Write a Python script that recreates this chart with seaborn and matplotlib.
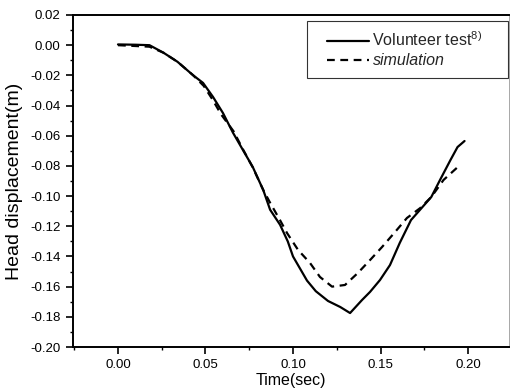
import matplotlib
matplotlib.use("Agg")
import matplotlib.pyplot as plt
import seaborn as sns
import pandas as pd
from matplotlib.ticker import MultipleLocator, FormatStrFormatter
from matplotlib.legend_handler import HandlerLine2D
from matplotlib.lines import Line2D

# ---- data ----
vol_t = [0.000, 0.010, 0.018, 0.026, 0.034, 0.043, 0.0486, 0.0543, 0.060, 0.0657,
         0.0714, 0.077, 0.083, 0.0869, 0.0926, 0.097, 0.100, 0.104, 0.108, 0.113,
         0.120, 0.127, 0.1326, 0.1394, 0.144, 0.1497, 0.1554, 0.161, 0.1674, 0.179,
         0.184, 0.190, 0.194, 0.198]
vol_y = [0.0005, 0.0003, 0.000, -0.005, -0.011, -0.020, -0.025, -0.0343, -0.045, -0.058,
         -0.0695, -0.0807, -0.096, -0.109, -0.119, -0.130, -0.140, -0.148, -0.156, -0.163,
         -0.1695, -0.1735, -0.1775, -0.1689, -0.1635, -0.1556, -0.1457, -0.131, -0.1159, -0.1006,
         -0.0893, -0.076, -0.0675, -0.0635]

sim_t = [0.000, 0.018, 0.026, 0.034, 0.043, 0.049, 0.054, 0.059, 0.066, 0.0714,
         0.077, 0.083, 0.087, 0.0926, 0.0966, 0.1029, 0.1097, 0.1154, 0.1223, 0.1297,
         0.137, 0.144, 0.1509, 0.1583, 0.1651, 0.1726, 0.179, 0.186, 0.1954]
sim_y = [0.000, -0.001, -0.005, -0.011, -0.020, -0.027, -0.036, -0.046, -0.057, -0.069,
         -0.081, -0.096, -0.1046, -0.116, -0.1245, -0.1357, -0.1443, -0.1536, -0.160, -0.1589,
         -0.151, -0.1424, -0.1337, -0.1238, -0.1145, -0.108, -0.1006, -0.0893, -0.0794]

labels = ["Volunteer test$^{8)}$", "simulation"]

sns.set_theme(style="ticks")
plt.rcParams["font.family"] = ["Liberation Sans", "DejaVu Sans"]
plt.rcParams["mathtext.fontset"] = "custom"
plt.rcParams["mathtext.rm"] = "Liberation Sans"
plt.rcParams["mathtext.it"] = "Liberation Sans:italic"
plt.rcParams["axes.unicode_minus"] = False

fig = plt.figure(figsize=(5.11, 3.92), dpi=100)
ax = fig.add_axes([73/511, 1-347/392, (509-73)/511, (347-15)/392])

df_v = pd.DataFrame({"t": vol_t, "y": vol_y})
df_s = pd.DataFrame({"t": sim_t, "y": sim_y})
sns.lineplot(data=df_v, x="t", y="y", ax=ax, color="black", lw=1.6,
             label=labels[0], sort=False)
sns.lineplot(data=df_s, x="t", y="y", ax=ax, color="black", lw=1.6,
             label=labels[1], sort=False, dashes=False)
ax.lines[1].set_dashes([3.5, 2.5])

ax.set_xlim(-0.0257, 0.2234)
ax.set_ylim(-0.20, 0.02)
ax.xaxis.set_major_locator(MultipleLocator(0.05))
ax.xaxis.set_minor_locator(MultipleLocator(0.025))
ax.yaxis.set_major_locator(MultipleLocator(0.02))
ax.yaxis.set_minor_locator(MultipleLocator(0.01))
ax.xaxis.set_major_formatter(FormatStrFormatter("%.2f"))
ax.yaxis.set_major_formatter(FormatStrFormatter("%.2f"))

ax.tick_params(axis="both", which="major", direction="out", length=5, width=1.2,
               labelsize=9.5, color="black", labelcolor="black", pad=4)
ax.tick_params(axis="both", which="minor", direction="out", length=2.5, width=1.0,
               color="black")
for s in ax.spines.values():
    s.set_visible(True)
    s.set_color("black")
    s.set_linewidth(1.4)
ax.spines["right"].set_linewidth(0.6)
ax.spines["right"].set_color("#999999")

ax.set_xlabel("Time(sec)", fontsize=11.5, color="black", labelpad=1)
ax.set_ylabel("Head displacement(m)", fontsize=14, color="black", labelpad=5)

handles, _ = ax.get_legend_handles_labels()
x0 = (307 - 73) / 436
w = (508 - 307) / 436
top = (347 - 21) / 332
leg = ax.legend(handles, labels, loc="upper left", bbox_to_anchor=(x0, 0.0, w, top),
                mode="expand", fontsize=11.5, frameon=True, fancybox=False,
                handlelength=3.3, handletextpad=0.2, borderpad=0.6,
                labelspacing=0.25, borderaxespad=0.0,
                handler_map={Line2D: HandlerLine2D(xpad=0.65)})
leg.get_frame().set_edgecolor("black")
leg.get_frame().set_linewidth(0.8)
for txt in leg.get_texts():
    if txt.get_text() == "simulation":
        txt.set_fontstyle("italic")

fig.savefig("out.png", dpi=100)
